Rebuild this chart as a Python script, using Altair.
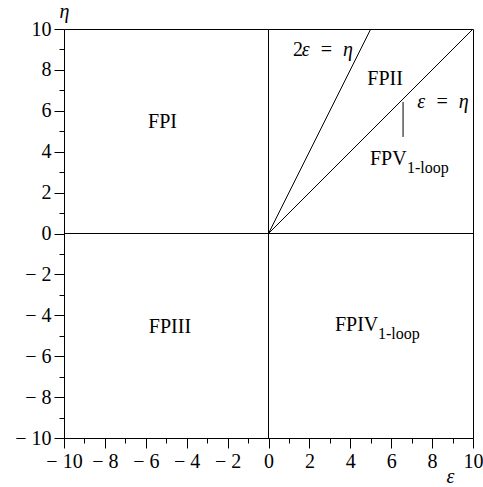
import altair as alt
import pandas as pd

# ---- data ----
major_ticks = [-10, -8, -6, -4, -2, 0, 2, 4, 6, 8, 10]
minor_ticks = list(range(-10, 11))

line_x_end = [5, 10]
line_y_end = [10, 10]

zero_x = [0]
zero_y = [0]

region_names = ["FPI", "FPII", "FPIII", "FPIV", "FPV"]
region_x = [-5.18, 5.7, -4.82, 3.25, 4.96]
region_y = [5.45, 7.56, -4.57, -4.45, 3.64]
region_align = ["center", "center", "center", "left", "left"]

sub_names = ["1-loop", "1-loop"]
sub_x = [5.35, 6.77]
sub_y = [-4.93, 3.22]

eq_names = ["ε\u2002=\u2002η", "ε\u2002=\u2002η"]
eq_x = [4.13, 8.53]
eq_y = [8.97, 6.45]
eq_align = ["right", "center"]
coef_text = ["2"]

leader_x = [6.58]
leader_y1 = [6.43]
leader_y2 = [4.72]

FONT = "Liberation Serif"
FS = 20

xs = alt.Scale(domain=[-10, 10], nice=False, zero=False)
ys = alt.Scale(domain=[-10, 10], nice=False, zero=False)

label_expr = "datum.value < 0 ? '\u2212 ' + abs(datum.value) : '' + datum.value"

axis_common = dict(domain=False, grid=False, tickColor="black", tickWidth=1,
                   labelFont=FONT, labelFontSize=FS, labelColor="black", labelFlush=False,
                   titleFont=FONT, titleFontSize=FS, titleColor="black",
                   titleFontWeight="normal", titleFontStyle="italic")
axis_notitle = {k: v for k, v in axis_common.items() if not k.startswith("title")}

axes_df = pd.DataFrame({"x": [0], "y": [0]})

minor_layer = alt.Chart(axes_df).mark_point(opacity=0).encode(
    x=alt.X("x:Q", scale=xs, axis=alt.Axis(values=minor_ticks, labels=False, tickSize=5,
                                           title=None, orient="bottom", **axis_notitle)),
    y=alt.Y("y:Q", scale=ys, axis=alt.Axis(values=minor_ticks, labels=False, tickSize=5,
                                           title=None, orient="left", **axis_notitle)),
)

major_layer = alt.Chart(axes_df).mark_point(opacity=0).encode(
    x=alt.X("x:Q", scale=xs, axis=alt.Axis(values=major_ticks, tickSize=10, labelPadding=3,
                                           labelExpr=label_expr, labelOverlap=False,
                                           title="ε", titleX=386, titleY=44,
                                           titleAlign="center", titleBaseline="alphabetic",
                                           orient="bottom", **axis_common)),
    y=alt.Y("y:Q", scale=ys, axis=alt.Axis(values=major_ticks, tickSize=10, labelPadding=3,
                                           labelExpr=label_expr, labelOverlap=False,
                                           title="η", titleX=0, titleY=-12, titleAngle=0,
                                           titleAlign="center", titleBaseline="alphabetic",
                                           orient="left", **axis_common)),
)

# zero lines
vzero = alt.Chart(pd.DataFrame({"x": zero_x})).mark_rule(color="black", strokeWidth=1).encode(
    x=alt.X("x:Q", scale=xs, axis=None))
hzero = alt.Chart(pd.DataFrame({"y": zero_y})).mark_rule(color="black", strokeWidth=1).encode(
    y=alt.Y("y:Q", scale=ys, axis=None))

# diagonal lines
diag_df = pd.DataFrame({"x0": [0, 0], "y0": [0, 0], "x1": line_x_end, "y1": line_y_end})
diags = alt.Chart(diag_df).mark_rule(color="black", strokeWidth=1).encode(
    x=alt.X("x0:Q", scale=xs, axis=None), y=alt.Y("y0:Q", scale=ys, axis=None),
    x2="x1:Q", y2="y1:Q")

leader = alt.Chart(pd.DataFrame({"x": leader_x, "y1": leader_y1, "y2": leader_y2})).mark_rule(
    color="black", strokeWidth=1).encode(
    x=alt.X("x:Q", scale=xs, axis=None), y=alt.Y("y1:Q", scale=ys, axis=None), y2="y2:Q")

reg_df = pd.DataFrame({"t": region_names, "x": region_x, "y": region_y, "a": region_align})
reg_center = alt.Chart(reg_df[reg_df.a == "center"]).mark_text(
    font=FONT, fontSize=FS, color="black", align="center", baseline="middle").encode(
    x=alt.X("x:Q", scale=xs, axis=None), y=alt.Y("y:Q", scale=ys, axis=None), text="t:N")
reg_left = alt.Chart(reg_df[reg_df.a == "left"]).mark_text(
    font=FONT, fontSize=FS, color="black", align="left", baseline="middle").encode(
    x=alt.X("x:Q", scale=xs, axis=None), y=alt.Y("y:Q", scale=ys, axis=None), text="t:N")

sub_df = pd.DataFrame({"t": sub_names, "x": sub_x, "y": sub_y})
subs = alt.Chart(sub_df).mark_text(
    font=FONT, fontSize=16, color="black", align="left", baseline="middle").encode(
    x=alt.X("x:Q", scale=xs, axis=None), y=alt.Y("y:Q", scale=ys, axis=None), text="t:N")

eq_df = pd.DataFrame({"t": eq_names, "x": eq_x, "y": eq_y, "a": eq_align})
eq_r = alt.Chart(eq_df[eq_df.a == "right"]).mark_text(
    font=FONT, fontSize=FS, fontStyle="italic", color="black", align="right", baseline="middle").encode(
    x=alt.X("x:Q", scale=xs, axis=None), y=alt.Y("y:Q", scale=ys, axis=None), text="t:N")
eq_c = alt.Chart(eq_df[eq_df.a == "center"]).mark_text(
    font=FONT, fontSize=FS, fontStyle="italic", color="black", align="center", baseline="middle").encode(
    x=alt.X("x:Q", scale=xs, axis=None), y=alt.Y("y:Q", scale=ys, axis=None), text="t:N")

coef_df = pd.DataFrame({"t": coef_text, "x": eq_x[:1], "y": eq_y[:1]})
coef = alt.Chart(coef_df).mark_text(
    font=FONT, fontSize=FS, color="black", align="right", baseline="middle", dx=-50).encode(
    x=alt.X("x:Q", scale=xs, axis=None), y=alt.Y("y:Q", scale=ys, axis=None), text="t:N")

chart = alt.layer(
    minor_layer, major_layer, vzero, hzero, diags, leader, reg_center, reg_left, subs, eq_r, eq_c, coef
).resolve_axis(x="independent", y="independent").properties(
    width=409, height=409,
    autosize=alt.AutoSizeParams(type="none"),
    padding={"left": 64, "top": 29, "right": 10, "bottom": 49},
    background="white",
).configure_view(stroke="black", strokeWidth=1)

chart.save("out.html", embed_options={"renderer": "svg", "actions": False})
